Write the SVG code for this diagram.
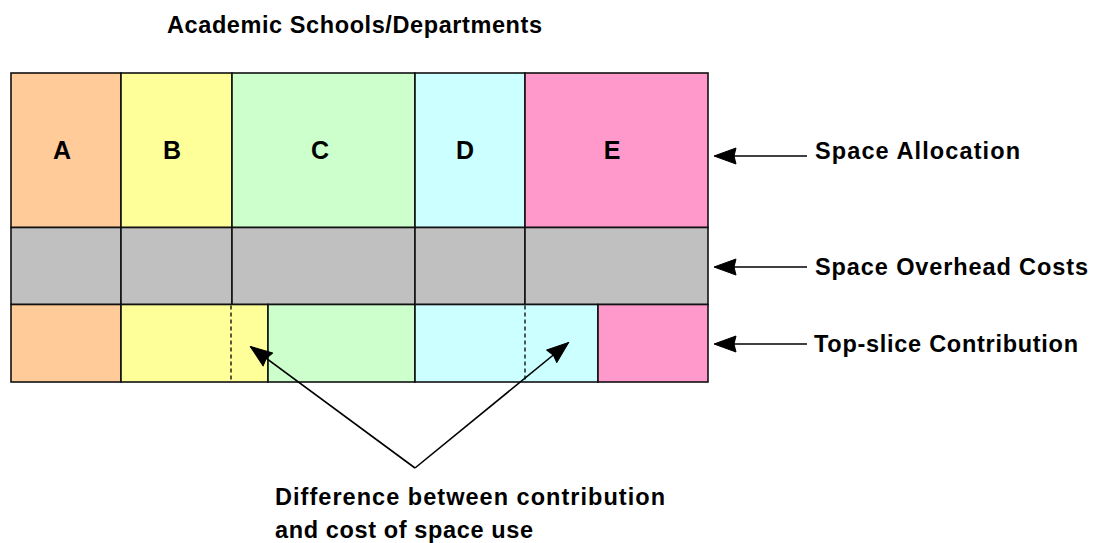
<svg xmlns="http://www.w3.org/2000/svg" width="1100" height="543" viewBox="0 0 1100 543">
  <style>
    .cell { stroke: #111; stroke-width: 1.6; }
    .orange { fill: #FFCC99; }
    .yellow { fill: #FFFF99; }
    .green { fill: #CCFFCC; }
    .cyan { fill: #CCFFFF; }
    .pink { fill: #FF99CC; }
    .grey { fill: #C0C0C0; }
    .lbl { font-family: "Liberation Sans", Arial, sans-serif; font-weight: bold; font-size: 23.5px; fill: #000; }
    .big { font-size: 25px; }
    .mid { text-anchor: middle; }
    .edge { stroke: #000; stroke-width: 1.6; fill: none; }
    .dash { stroke: #000; stroke-width: 1.3; stroke-dasharray: 4 3; fill: none; }
  </style>
  <defs>
    <marker id="head" markerUnits="userSpaceOnUse" markerWidth="26" markerHeight="20" viewBox="-23 -10 26 20" refX="0" refY="0" orient="auto">
      <path d="M1,0 L-21,-8 L-19,0 L-21,8 Z" fill="#000" stroke="#000" stroke-width="1" stroke-linejoin="round"/>
    </marker>
  </defs>
  <rect width="1100" height="543" fill="#fff"/>

  <text id="title" class="lbl" x="167" y="33" textLength="375" lengthAdjust="spacing">Academic Schools/Departments</text>

  <!-- space allocation row -->
  <g id="alloc-A"><rect class="cell orange" x="11" y="73" width="110" height="154.5"/><text class="lbl big mid" x="62" y="159">A</text></g>
  <g id="alloc-B"><rect class="cell yellow" x="121" y="73" width="111" height="154.5"/><text class="lbl big mid" x="172" y="159">B</text></g>
  <g id="alloc-C"><rect class="cell green" x="232" y="73" width="183" height="154.5"/><text class="lbl big mid" x="320" y="159">C</text></g>
  <g id="alloc-D"><rect class="cell cyan" x="415" y="73" width="110" height="154.5"/><text class="lbl big mid" x="465" y="159">D</text></g>
  <g id="alloc-E"><rect class="cell pink" x="525" y="73" width="183" height="154.5"/><text class="lbl big mid" x="612" y="159">E</text></g>

  <!-- overhead row -->
  <g id="overhead-A"><rect class="cell grey" x="11" y="227.5" width="110" height="77"/></g>
  <g id="overhead-B"><rect class="cell grey" x="121" y="227.5" width="111" height="77"/></g>
  <g id="overhead-C"><rect class="cell grey" x="232" y="227.5" width="183" height="77"/></g>
  <g id="overhead-D"><rect class="cell grey" x="415" y="227.5" width="110" height="77"/></g>
  <g id="overhead-E"><rect class="cell grey" x="525" y="227.5" width="183" height="77"/></g>

  <!-- top-slice row -->
  <g id="slice-A"><rect class="cell orange" x="11" y="304.5" width="110" height="77.5"/></g>
  <g id="slice-B"><rect class="cell yellow" x="121" y="304.5" width="147" height="77.5"/><line class="dash" x1="231" y1="305.5" x2="231" y2="381"/></g>
  <g id="slice-C"><rect class="cell green" x="268" y="304.5" width="147" height="77.5"/></g>
  <g id="slice-D"><rect class="cell cyan" x="415" y="304.5" width="183" height="77.5"/><line class="dash" x1="525" y1="305.5" x2="525" y2="381"/></g>
  <g id="slice-E"><rect class="cell pink" x="598" y="304.5" width="110" height="77.5"/></g>

  <!-- row labels -->
  <g id="label-alloc"><text class="lbl" x="815" y="159" textLength="205" lengthAdjust="spacing">Space Allocation</text></g>
  <g id="label-overhead"><text class="lbl" x="815" y="275" textLength="273" lengthAdjust="spacing">Space Overhead Costs</text></g>
  <g id="label-slice"><text class="lbl" x="814" y="352" textLength="264" lengthAdjust="spacing">Top-slice Contribution</text></g>
  <g id="label-diff">
    <text class="lbl" x="275" y="505" textLength="390" lengthAdjust="spacing">Difference between contribution</text>
    <text class="lbl" x="275" y="538" textLength="258" lengthAdjust="spacing">and cost of space use</text>
  </g>

  <g id="connectors">
    <line class="edge" x1="807" y1="156" x2="715" y2="156" marker-end="url(#head)"/>
    <line class="edge" x1="807" y1="267" x2="715" y2="267" marker-end="url(#head)"/>
    <line class="edge" x1="807" y1="344" x2="715" y2="344" marker-end="url(#head)"/>
    <line class="edge" x1="415" y1="468" x2="251" y2="347" marker-end="url(#head)"/>
    <line class="edge" x1="415" y1="468" x2="568" y2="343" marker-end="url(#head)"/>
  </g>
</svg>
